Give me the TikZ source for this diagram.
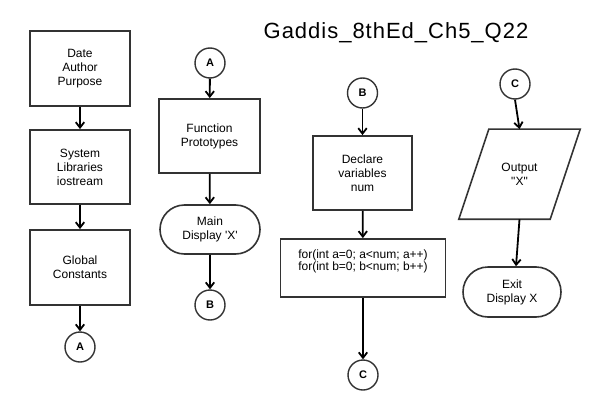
\documentclass[tikz,border=0pt]{standalone}
\usepackage{fontspec}
\setmainfont{Liberation Sans}
\usetikzlibrary{arrows.meta,shapes.misc}
\definecolor{boxgray}{HTML}{333333}
\begin{document}
\begin{tikzpicture}[x=1pt,y=-1pt,
  txt/.style={align=center, font=\fontsize{12}{14}\selectfont},
  box/.style={txt, draw=boxgray, line width=1.8pt, minimum width=100pt, minimum height=75pt, inner sep=0pt},
  term/.style={txt, rounded rectangle, draw=boxgray, line width=1.6pt, minimum width=100pt, minimum height=50pt, inner sep=0pt},
  conn/.style={circle, draw=boxgray, line width=1.4pt, minimum size=30pt, inner sep=0pt, font=\fontsize{11}{13}\selectfont\bfseries},
  flow/.style={line width=1.8pt, -{Straight Barb[length=5.5pt,width=8.5pt]}}
]
\useasboundingbox (0,0) rectangle (591,412);
\fill[white] (0,0) rectangle (591,412);

% title
\node[anchor=base, font=\fontsize{22}{26}\selectfont\addfontfeature{LetterSpace=4.5}] (title) at (396,39) {Gaddis\_8thEd\_Ch5\_Q22};

% column 1
\node[box] (info) at (80,68.5) {Date\\Author\\Purpose};
\node[box, minimum height=74pt] (lib) at (80,167) {System\\Libraries\\iostream};
\node[box] (glob) at (80,267.5) {Global\\Constants};
\node[conn] (a1) at (80,347) {A};

% column 2
\node[conn] (a2) at (210,63) {A};
\node[box, minimum width=101pt, minimum height=74pt] (proto) at (209.5,136) {Function\\Prototypes};
\node[term, minimum height=49pt] (main) at (210,229.5) {Main\\Display \textquotesingle X\textquotesingle};
\node[conn] (b1) at (210,305) {B};

% column 3
\node[conn] (b2) at (362.5,93) {B};
\node[box, minimum width=99pt, minimum height=74pt] (decl) at (362.5,173) {Declare\\variables\\num};
\node[box, minimum width=165pt, minimum height=58pt] (loop) at (363,268) {};
\node[align=center, font=\fontsize{12}{10.5}\selectfont, inner sep=0pt] (looptxt) at (363,261) {for(int a=0; a<num; a++)\\for(int b=0; b<num; b++)};
\node[conn] (c1) at (363,375) {C};

% column 4
\node[conn] (c2) at (515,84) {C};
\node[txt, minimum width=91pt, minimum height=89.7pt, inner sep=0pt] (out) at (519.5,174.2) {Output\\\textquotedbl X\textquotedbl};
\draw[boxgray, line width=1.6pt, line join=miter]
  ([xshift=15pt]out.north west) -- ([xshift=15pt]out.north east)
  -- ([xshift=-15pt]out.south east) -- ([xshift=-15pt]out.south west) -- cycle;
\node[term, minimum width=98pt] (exit) at (512,292) {Exit\\Display X};

% connectors
\draw[flow] (info) -- (lib);
\draw[flow] (lib) -- (glob);
\draw[flow] (glob) -- (a1);
\draw[flow] (a2) -- (proto);
\draw[flow] (proto) -- (main);
\draw[flow] (main) -- (b1);
\draw[flow] (b2) -- (decl);
\draw[flow] (decl) -- (loop);
\draw[flow] (loop.south) -- (c1.north);
\draw[flow] (c2.south) -- (out.north);
\draw[flow] (out.south) -- ([xshift=4pt]exit.north);
\end{tikzpicture}
\end{document}
